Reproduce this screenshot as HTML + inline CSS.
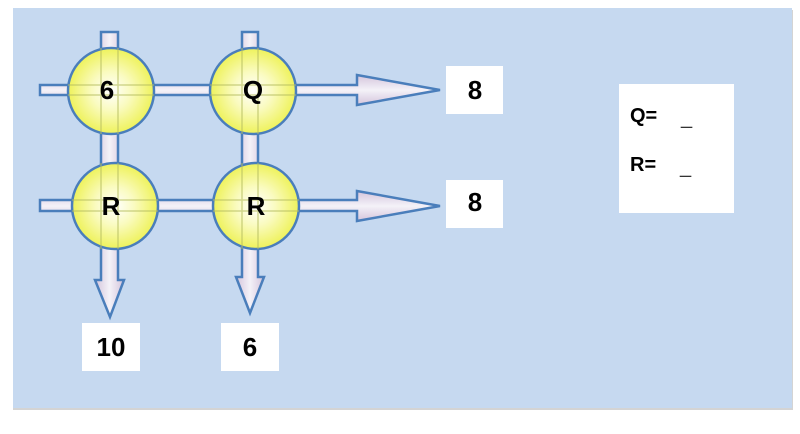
<!DOCTYPE html>
<html><head><style>
html,body{margin:0;padding:0;background:#fff;width:800px;height:434px;overflow:hidden}
svg{display:block}
text{font-family:"Liberation Sans",Arial,sans-serif;font-weight:bold;fill:#000}
.n{font-size:26px}
.b{font-size:26px}
.q{font-size:20px}
.u{font-size:20px;font-weight:normal;fill:#333}
</style></head><body>
<svg width="800" height="434" viewBox="0 0 800 434">
<defs>
<radialGradient id="cg" cx="0.5" cy="0.5" r="0.5">
<stop offset="0" stop-color="#ffffff"/>
<stop offset="0.45" stop-color="#fafbc0"/>
<stop offset="1" stop-color="#eef25a"/>
</radialGradient>
<linearGradient id="hg" x1="0" y1="0" x2="0" y2="1">
<stop offset="0" stop-color="#d4c4dc"/><stop offset="0.5" stop-color="#f4f2f8"/><stop offset="1" stop-color="#d4c4dc"/>
</linearGradient>
<linearGradient id="vg" x1="0" y1="0" x2="1" y2="0">
<stop offset="0" stop-color="#d4c4dc"/><stop offset="0.5" stop-color="#f4f2f8"/><stop offset="1" stop-color="#d4c4dc"/>
</linearGradient>
</defs>
<rect x="0" y="0" width="800" height="434" fill="#fff"/>
<rect x="13" y="10" width="780" height="400" fill="#d4d4d4"/>
<rect x="13" y="8" width="779" height="400" fill="#c6d9f0"/>
<g stroke="#4a7ebb" stroke-width="2.5">
<path d="M40 85 H357 V75 L440 90 L357 105 V95 H40 Z" fill="url(#hg)"/>
<path d="M40 200 H357 V191 L440 206 L357 221 V211 H40 Z" fill="url(#hg)"/>
<path d="M101 32 H118 V280 H124 L110 317 L95 280 H101 Z" fill="url(#vg)"/>
<path d="M242 32 H258 V277 H264 L250 313 L236 277 H242 Z" fill="url(#vg)"/>
<circle cx="111" cy="91" r="43" fill="url(#cg)"/>
<circle cx="253" cy="91" r="43" fill="url(#cg)"/>
<circle cx="115" cy="206" r="43" fill="url(#cg)"/>
<circle cx="256" cy="206" r="43" fill="url(#cg)"/>
</g>
<g stroke="#b5bd60" stroke-width="1.5" opacity="0.6">
<line x1="101" y1="48" x2="101" y2="134"/><line x1="118" y1="48" x2="118" y2="134"/>
<line x1="68" y1="85" x2="154" y2="85"/><line x1="68" y1="95" x2="154" y2="95"/>
<line x1="242" y1="48" x2="242" y2="134"/><line x1="258" y1="48" x2="258" y2="134"/>
<line x1="210" y1="85" x2="296" y2="85"/><line x1="210" y1="95" x2="296" y2="95"/>
<line x1="101" y1="163" x2="101" y2="249"/><line x1="118" y1="163" x2="118" y2="249"/>
<line x1="72" y1="200" x2="158" y2="200"/><line x1="72" y1="211" x2="158" y2="211"/>
<line x1="242" y1="163" x2="242" y2="249"/><line x1="258" y1="163" x2="258" y2="249"/>
<line x1="213" y1="200" x2="299" y2="200"/><line x1="213" y1="211" x2="299" y2="211"/>
</g>
<text class="n" x="107" y="99" text-anchor="middle">6</text>
<text class="n" x="253" y="99" text-anchor="middle">Q</text>
<text class="n" x="111" y="215" text-anchor="middle">R</text>
<text class="n" x="256" y="215" text-anchor="middle">R</text>
<rect x="446" y="66" width="57" height="48" fill="#fff"/>
<rect x="446" y="180" width="57" height="48" fill="#fff"/>
<rect x="82" y="323" width="58" height="48" fill="#fff"/>
<rect x="221" y="323" width="58" height="48" fill="#fff"/>
<rect x="619" y="84" width="115" height="129" fill="#fff"/>
<text class="b" x="475" y="99" text-anchor="middle">8</text>
<text class="b" x="475" y="211" text-anchor="middle">8</text>
<text class="b" x="111" y="356" text-anchor="middle">10</text>
<text class="b" x="250" y="356" text-anchor="middle">6</text>
<text class="q" x="630" y="122">Q=</text>
<text class="q" x="630" y="171">R=</text>
<text class="u" x="681" y="124">_</text>
<text class="u" x="680" y="173">_</text>
</svg>
</body></html>
